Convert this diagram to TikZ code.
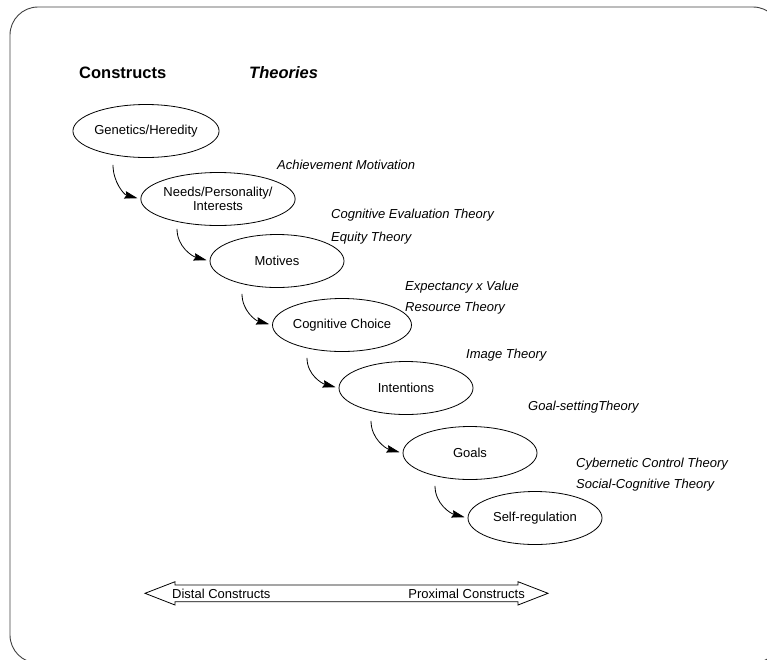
\documentclass[tikz,border=0pt]{standalone}
\usepackage{fontspec}
\setmainfont{Liberation Sans}
\usetikzlibrary{arrows.meta,shapes.geometric}
\begin{document}
\begin{tikzpicture}[x=1pt,y=1pt,
  construct/.style={draw=black,line width=0.8pt,ellipse,minimum width=134pt,minimum height=53pt,inner sep=0pt,font=\fontsize{13}{14}\selectfont,align=center},
  theory/.style={anchor=base west,inner sep=0pt,font=\fontsize{13}{15}\selectfont\itshape},
  header/.style={anchor=base west,inner sep=0pt,font=\fontsize{16.5}{19}\selectfont\bfseries},
  conn/.style={line width=0.8pt,-{Stealth[length=13pt,width=7.5pt,inset=1.5pt]},shorten >=3pt},
  plain/.style={inner sep=0pt,font=\fontsize{13}{15}\selectfont}]
\useasboundingbox (0,0) rectangle (767,-659);
% frame
\draw[black!75,line width=0.9pt,rounded corners=28pt] (10,-7) rectangle (781,-663);
% headers
\node[header] (hcon) at (79,-78) {Constructs};
\node[header] (hthe) at (249,-78) {\itshape Theories};
% constructs
\node[construct] (gen) at (146,-131) {Genetics/Heredity};
\node[construct] (need) at (218,-199) {Needs/Personality/\\Interests};
\node[construct] (mot) at (277,-261) {Motives};
\node[construct] (cog) at (342,-325) {Cognitive Choice};
\node[construct] (int) at (406,-388) {Intentions};
\node[construct] (goal) at (470,-453) {Goals};
\node[construct] (self) at (535,-518) {Self-regulation};
% connectors
\draw[conn] ([xshift=-33pt,yshift=-7pt]gen.south) to[out=-90,in=165] (need.west);
\draw[conn] ([xshift=-41pt,yshift=-3pt]need.south) to[out=-90,in=165] (mot.west);
\draw[conn] ([xshift=-35pt,yshift=-6pt]mot.south) to[out=-90,in=165] (cog.west);
\draw[conn] ([xshift=-35pt,yshift=-6pt]cog.south) to[out=-90,in=165] (int.west);
\draw[conn] ([xshift=-35pt,yshift=-6pt]int.south) to[out=-90,in=165] (goal.west);
\draw[conn] ([xshift=-35pt,yshift=-6pt]goal.south) to[out=-90,in=165] (self.west);
% theories
\node[theory] (t1) at (277,-169.5) {Achievement Motivation};
\node[theory] (t2) at (331,-218.5) {Cognitive Evaluation Theory};
\node[theory] (t3) at (331,-241.5) {Equity Theory};
\node[theory] (t4) at (405,-290.5) {Expectancy x Value};
\node[theory] (t5) at (405,-311.5) {Resource Theory};
\node[theory] (t6) at (466,-358.5) {Image Theory};
\node[theory] (t7) at (528,-410.5) {Goal-settingTheory};
\node[theory] (t8) at (576,-467.5) {Cybernetic Control Theory};
\node[theory] (t9) at (576,-488.5) {Social-Cognitive Theory};
% double block arrow
\draw[line width=0.8pt,fill=white] (145,-593.3) -- (175,-581.7) -- (175,-585) -- (518,-585) -- (518,-581.7) -- (548,-593.3) -- (518,-605) -- (518,-601.7) -- (175,-601.7) -- (175,-605) -- cycle;
\node[plain,anchor=base west] (distal) at (172,-598) {Distal Constructs};
\node[plain,anchor=base east] (proximal) at (525,-598) {Proximal Constructs};
\end{tikzpicture}
\end{document}
